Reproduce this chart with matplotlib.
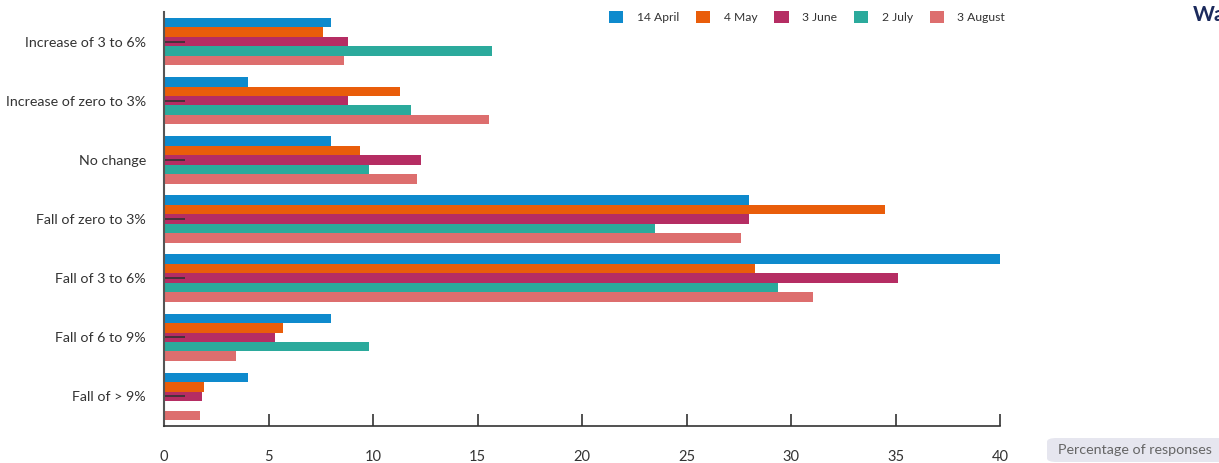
import numpy as np
import matplotlib.pyplot as plt
from matplotlib.patches import FancyBboxPatch

plt.rcParams['font.family'] = ['Lato', 'DejaVu Sans']

categories = ["Increase of 3 to 6%", "Increase of zero to 3%", "No change",
              "Fall of zero to 3%", "Fall of 3 to 6%", "Fall of 6 to 9%", "Fall of > 9%"]
series = ["14 April", "4 May", "3 June", "2 July", "3 August"]
april = [8.0, 4.0, 8.0, 28.0, 40.0, 8.0, 4.0]
may = [7.6, 11.3, 9.4, 34.5, 28.3, 5.7, 1.9]
june = [8.8, 8.8, 12.3, 28.0, 35.1, 5.3, 1.8]
july = [15.7, 11.8, 9.8, 23.5, 29.4, 9.8, 0.0]
august = [8.6, 15.55, 12.1, 27.6, 31.05, 3.45, 1.7]
colors = ["#0e8acd", "#e95d0a", "#b52d63", "#2baa9c", "#dd6e6e"]

fig = plt.figure(figsize=(12.19, 4.63), dpi=100)
ax = fig.add_axes([164 / 1219, 1 - 426 / 463, 836 / 1219, 414 / 463])

y = np.arange(len(categories))
h = 0.16
for i, (vals, c, name) in enumerate(zip([april, may, june, july, august], colors, series)):
    ax.barh(y + (i - 2) * h, vals, height=h, color=c, label=name)

# small dark marks at the centre of each group
for yy in y:
    ax.plot([0, 1], [yy, yy], color="#333333", lw=1.2, solid_capstyle="butt")

ax.set_xlim(0, 40)
ax.set_ylim(6.5, -0.5)
ax.set_yticks(y)
ax.set_yticklabels(categories, fontsize=10.3, color="#333333")
ax.set_xticks(np.arange(0, 41, 5))
ax.tick_params(axis="y", length=0, pad=13)
ax.tick_params(axis="x", direction="in", length=9, width=1.2, color="#333333",
               labelsize=10.5, labelcolor="#333333", pad=17)
for s in ["top", "right"]:
    ax.spines[s].set_visible(False)
ax.spines["left"].set_color("#555555")
ax.spines["left"].set_linewidth(1.5)
ax.spines["bottom"].set_color("#333333")
ax.spines["bottom"].set_linewidth(1.2)

fig.legend(loc="center", bbox_to_anchor=(807 / 1219, 1 - 17 / 463), ncol=5,
           frameon=False, fontsize=8.7, handlelength=1.2, handleheight=1.2,
           handletextpad=1.1, columnspacing=1.4, labelcolor="#333333")

fig.text(1193 / 1219, 1 - 15 / 463, "Wa", fontsize=15, fontweight="bold",
         color="#1b2a5c", va="center", ha="left")

box = FancyBboxPatch((1047 / 1219, 1 - 462 / 463), 0.2, 24 / 463,
                     boxstyle="round,pad=0,rounding_size=0.008",
                     transform=fig.transFigure, fc="#e6e6ef", ec="none")
fig.patches.append(box)
fig.text(1058 / 1219, 1 - 450 / 463, "Percentage of responses", fontsize=10.3,
         color="#666666", va="center", ha="left")

fig.savefig("out.png", dpi=100)
